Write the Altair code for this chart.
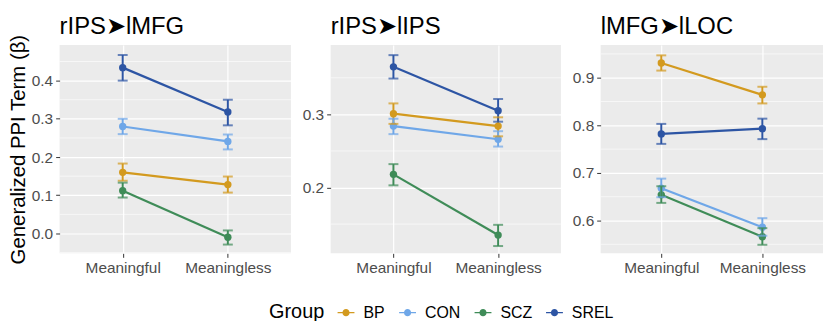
import altair as alt
import pandas as pd

groups = ["BP", "CON", "SCZ", "SREL"]
colors = ["#D39A1F", "#6FA7E8", "#3F8C58", "#2D55A4"]
conds = ["Meaningful", "Meaningless"]
panels = ["rIPS\u27a4lMFG", "rIPS\u27a4lIPS", "lMFG\u27a4lLOC"]

# panel 1: rIPS -> lMFG  (values per group: [Meaningful, Meaningless])
p1_mean = {"BP": [0.160, 0.128], "CON": [0.280, 0.241], "SCZ": [0.112, -0.010], "SREL": [0.434, 0.318]}
p1_lo = {"BP": [0.138, 0.107], "CON": [0.260, 0.220], "SCZ": [0.094, -0.029], "SREL": [0.400, 0.283]}
p1_hi = {"BP": [0.183, 0.149], "CON": [0.300, 0.259], "SCZ": [0.133, 0.008], "SREL": [0.467, 0.350]}

# panel 2: rIPS -> lIPS
p2_mean = {"BP": [0.301, 0.284], "CON": [0.284, 0.266], "SCZ": [0.218, 0.135], "SREL": [0.365, 0.305]}
p2_lo = {"BP": [0.287, 0.270], "CON": [0.273, 0.256], "SCZ": [0.203, 0.120], "SREL": [0.349, 0.290]}
p2_hi = {"BP": [0.315, 0.296], "CON": [0.294, 0.277], "SCZ": [0.232, 0.149], "SREL": [0.381, 0.321]}

# panel 3: lMFG -> lLOC
p3_mean = {"BP": [0.931, 0.864], "CON": [0.668, 0.586], "SCZ": [0.654, 0.566], "SREL": [0.782, 0.793]}
p3_lo = {"BP": [0.915, 0.846], "CON": [0.649, 0.568], "SCZ": [0.637, 0.549], "SREL": [0.761, 0.771]}
p3_hi = {"BP": [0.947, 0.881], "CON": [0.688, 0.605], "SCZ": [0.672, 0.584], "SREL": [0.803, 0.814]}

y_domains = [[-0.052, 0.4935], [0.110, 0.395], [0.531, 0.969]]
major_ticks = [[0.0, 0.1, 0.2, 0.3, 0.4], [0.2, 0.3], [0.6, 0.7, 0.8, 0.9]]
minor_ticks = [[-0.05, 0.05, 0.15, 0.25, 0.35, 0.45], [0.15, 0.25, 0.35], [0.55, 0.65, 0.75, 0.85, 0.95]]
widths = [233, 232, 224]
title_dy = [11, 0, 0]

FONT = "Liberation Sans"


def make_df(mean, lo, hi):
    rows = []
    for g in groups:
        for i, c in enumerate(conds):
            rows.append({"group": g, "cond": c, "mean": mean[g][i], "lo": lo[g][i], "hi": hi[g][i]})
    return pd.DataFrame(rows)


color_enc = alt.Color(
    "group:N",
    scale=alt.Scale(domain=groups, range=colors),
    legend=alt.Legend(
        title="Group",
        orient="none",
        legendX=211,
        legendY=261,
        direction="horizontal",
        titleOrient="left",
        symbolType="M-1,-0.07L1,-0.07L1,0.07L-1,0.07Z M0.42,0A0.42,0.42 0 1 1 -0.42,0A0.42,0.42 0 1 1 0.42,0Z",
        symbolSize=289,
        symbolStrokeWidth=0,
        symbolOpacity=1,
        labelFontSize=16,
        labelFont=FONT,
        labelColor="#000000",
        titleFontSize=20,
        titleFont=FONT,
        titleFontWeight="normal",
        titleColor="#000000",
        titlePadding=13,
        columnPadding=14,
        labelOffset=9,
    ),
)


def panel(idx, mean, lo, hi):
    df = make_df(mean, lo, hi)
    yscale = alt.Scale(domain=y_domains[idx], nice=False, zero=False)
    xenc = alt.X(
        "cond:N",
        sort=conds,
        scale=alt.Scale(type="point", padding=0.6),
        axis=alt.Axis(title=None, labelAngle=0, grid=True, gridColor="white", gridWidth=1.2,
                      domain=False, tickColor="#333333", tickSize=4, labelFontSize=15.5,
                      labelColor="#4D4D4D", labelFont=FONT, labelPadding=3),
    )
    yaxis = alt.Axis(
        values=major_ticks[idx], format=".1f", grid=True, gridColor="white", gridWidth=1.2,
        domain=False, tickColor="#333333", tickSize=4, labelFontSize=15.5, labelColor="#4D4D4D",
        labelFont=FONT, labelPadding=3,
        title="Generalized PPI Term (\u03b2)" if idx == 0 else None,
        titleFontSize=20.5, titleFont=FONT, titleFontWeight="normal", titleColor="#000000",
        titlePadding=3,
    )
    minor = alt.Chart(pd.DataFrame({"v": minor_ticks[idx]})).mark_rule(
        color="white", strokeWidth=0.6
    ).encode(y=alt.Y("v:Q", scale=yscale, axis=yaxis))
    base = alt.Chart(df).encode(x=xenc)
    line = base.mark_line(strokeWidth=2.2).encode(
        y=alt.Y("mean:Q", scale=yscale), color=color_enc, detail="group:N")
    bars = base.mark_rule(strokeWidth=2).encode(
        y=alt.Y("lo:Q", scale=yscale), y2="hi:Q", color=color_enc)
    cap_lo = base.mark_tick(size=10, thickness=2).encode(
        y=alt.Y("lo:Q", scale=yscale), color=color_enc)
    cap_hi = base.mark_tick(size=10, thickness=2).encode(
        y=alt.Y("hi:Q", scale=yscale), color=color_enc)
    pts = base.mark_circle(size=55, opacity=1).encode(
        y=alt.Y("mean:Q", scale=yscale), color=color_enc)
    return alt.layer(minor, pts, line, bars, cap_lo, cap_hi).properties(
        width=widths[idx], height=210,
        title=alt.TitleParams(panels[idx], anchor="start", frame="group", fontSize=24, font=FONT,
                              fontWeight="normal", color="#000000", offset=6, dy=title_dy[idx]),
    )


chart = alt.hconcat(
    panel(0, p1_mean, p1_lo, p1_hi),
    panel(1, p2_mean, p2_lo, p2_hi),
    panel(2, p3_mean, p3_lo, p3_hi),
    spacing=40,
    bounds="flush",
).resolve_scale(y="independent", x="independent", color="shared").configure(
    padding={"left": 0, "top": 6, "right": 0, "bottom": 0}, background="white"
).configure_view(fill="#EBEBEB", strokeWidth=0)

chart.save("out.html", embed_options={"renderer": "svg", "actions": False})
